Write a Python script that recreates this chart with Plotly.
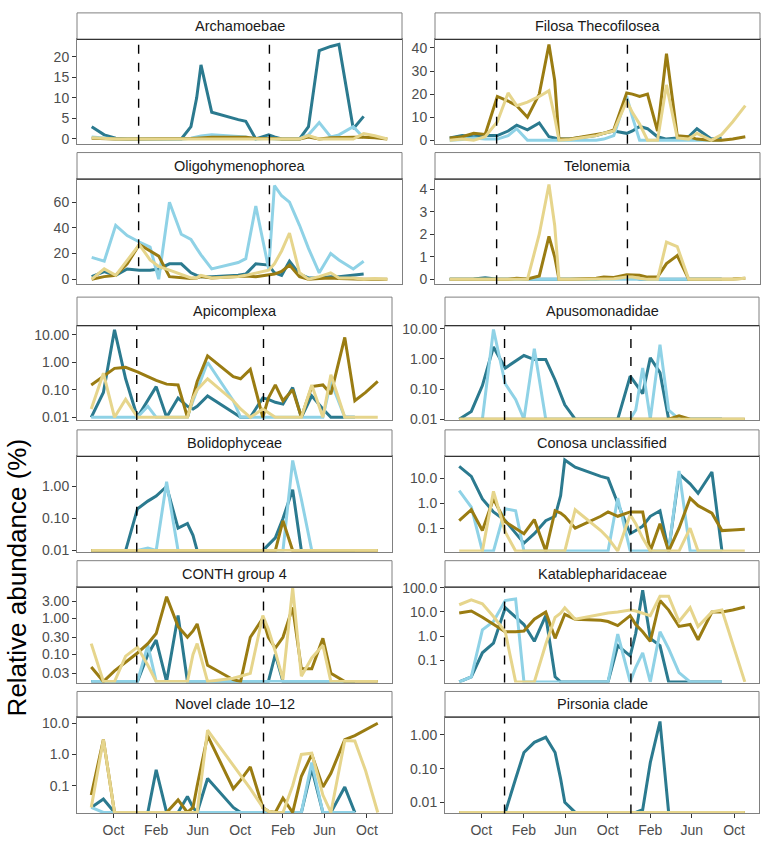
import plotly.graph_objects as go

W, H = 767, 845

# ---------------- data ----------------
dates = ["2017-07-29", "2017-09-02", "2017-10-04", "2017-11-05", "2017-12-09", "2018-01-08",
         "2018-02-01", "2018-03-03", "2018-04-05", "2018-05-02", "2018-05-18", "2018-05-30",
         "2018-06-29", "2018-09-11", "2018-10-02", "2018-10-30", "2018-12-05", "2018-12-21",
         "2019-01-10", "2019-02-01", "2019-03-01", "2019-03-26", "2019-04-25", "2019-05-27",
         "2019-06-19", "2019-07-29", "2019-08-27", "2019-09-27", "2019-11-01"]
event_dates = ["2017-12-07", "2018-12-07"]
month_ticks = ["2017-10-01", "2018-02-01", "2018-06-01", "2018-10-01", "2019-02-01", "2019-06-01", "2019-10-01"]
month_labels = ["Oct", "Feb", "Jun", "Oct", "Feb", "Jun", "Oct"]
N = None

archamoebae_teal = [3, 1, 0.2, 0, 0, 0, 0, 0, 0, 3, 10, 18, 6.5, 4.7, 4.3, 0, 1, 0.5, 0, 0, 0, 3, 21.5, 22.5, 23, 2.5, 5.5, N, N]
archamoebae_lblue = [0.5, 0.2, 0, 0, 0, 0, 0, 0, 0, 0.2, 0.5, 0.7, 1.0, 0.6, 0.5, 0, 0.2, 0, 0, 0, 0, 1.0, 4.0, 0.5, 1.0, 3.0, 0.3, N, N]
archamoebae_dgold = [0.2, 0, 0, 0, 0, 0, 0, 0, 0, 0.1, 0.2, 0.3, 0.4, 0.4, 0.4, 0.1, 0.2, 0.1, 0, 0, 0, 0.5, 0, 0.3, 0.4, 0.4, 0.4, 0.3, 0]
archamoebae_lgold = [0.3, 0.1, 0, 0, 0, 0, 0, 0, 0, 0, 0, 0, 0, 0, 0, 0, 0.1, 0, 0, 0, 0, 0.8, 0, 0, 0, 0, 1.3, 0.8, 0]

filosa_teal = [1, 2, 1.5, 2, 2, 4, 6.5, 4.5, 7.5, 1.5, 1, 0.5, 0.5, 2, 3, 4, 3, 4, 6, 5, 1.5, 0.5, 1, 1.5, 5, 0.5, 1, N, N]
filosa_lblue = [0, 0.3, 1, 0.5, 0.5, 2, 5, 0, 0, 0, 0, 0, 0, 0, 0.5, 2, 19, 10, 0, 0, 0, 0, 0, 0, 0, 0, 0, N, N]
filosa_dgold = [1, 1.5, 3, 2.5, 19, 17, 15, 10, 20, 41.5, 26, 0.5, 0.5, 2.5, 3, 4.5, 20.5, 20, 19, 20, 4, 37.5, 2, 1.5, 0.5, 0, 0, 0.5, 1.5]
filosa_lgold = [0, 0.5, 0, 1.5, 8, 20.5, 15, 16.5, 19, 21.5, 10, 0, 0.3, 2, 3, 4, 17, 12, 7, 0, 0, 24, 1, 0.5, 3, 0, 2.5, 8, 15]

oligo_teal = [2, 6, 3, 8, 7, 7, 8, 12, 12, 5, 3, 2, 2, 3, 4, 12, 11, 5, 3, 14, 4, 1, 1, 2, 2, 3, 4, N, N]
oligo_lblue = [17, 14, 42, 34, 29, 25, 0, 60, 35, 31, 24, 19, 8, 13, 16, 57, 8, 73, 65, 60, 42, 24, 5, 20, 15, 8, 14, N, N]
oligo_dgold = [0, 2, 3, 12, 27, 22, 18, 2, 1, 0.5, 1, 2, 1, 2, 2.5, 2, 3, 4, 6, 11, 2, 0, 0.5, 1, 0.5, 0, 0, 0, 0]
oligo_lgold = [0, 8, 3, 15, 27, 15, 10, 7, 4, 1, 1, 3, 1, 2, 3, 5, 7, 12, 22, 36, 5, 0, 2, 5, 1, 1, 0, 0.5, 0]

telonemia_teal = [0, 0, 0.02, 0.07, 0, 0, 0, 0, 0, 0, 0, 0, 0, 0, 0.05, 0.05, 0.1, 0.1, 0, 0, 0, 0, 0, 0, 0, 0, 0, N, N]
telonemia_lblue = [0, 0, 0, 0, 0, 0, 0, 0, 0, 0.02, 0.02, 0, 0, 0, 0, 0, 0.02, 0.02, 0.02, 0.02, 0.02, 0.02, 0.02, 0, 0, 0, 0, N, N]
telonemia_dgold = [0, 0, 0, 0, 0, 0, 0.05, 0.02, 0.15, 1.9, 1.0, 0, 0, 0.05, 0.1, 0.08, 0.2, 0.2, 0.18, 0.1, 0.1, 0.7, 1.05, 0, 0, 0, 0, 0.02, 0.05]
telonemia_lgold = [0, 0, 0, 0, 0, 0, 0.02, 0, 2.0, 4.2, 2.4, 0, 0, 0.02, 0.03, 0.03, 0.1, 0.1, 0.05, 0, 0, 1.65, 1.45, 0, 0, 0, 0, 0, 0.05]

apicomplexa_teal = [0, 0.08, 15, 0.25, 0, 0.04, 0.13, 0, 0.05, 0.025, 0.02, 0.025, 0.06, 0.015, 0, 0, 0.05, 0.045, 0.035, 0.03, 0.12, 0, 0.06, 0.02, 0, 0, 0, N, N]
apicomplexa_lblue = [0, 0, 0, 0, 0, 0.025, 0, 0, 0, 0, 0.04, 0.1, 1.0, 0.04, 0, 0, 0, 0, 0, 0, 0, 0, 0, 0, 0.2, 0, 0, N, N]
apicomplexa_dgold = [0.15, 0.3, 0.6, 0.65, 0.45, 0.3, 0.22, 0.16, 0.15, 0, 0.06, 0.2, 1.7, 0.3, 0.25, 0.55, 0, 0.05, 0.15, 0.04, 0.1, 0, 0.13, 0.15, 0.07, 8, 0.04, 0.08, 0.2]
apicomplexa_lgold = [0.02, 0.4, 0, 0.045, 0, 0, 0, 0, 0, 0, 0.05, 0.1, 0.25, 0.04, 0.02, 0, 0.02, 0.015, 0, 0, 0, 0, 0.15, 0, 0.35, 0, 0, 0, 0]

apuso_teal = [0, 0.018, 0.13, 2.5, 0.5, 0.85, 1.3, 0.95, 0.95, 0.2, 0.07, 0.03, 0, 0, 0, 0, 0.27, 0.15, 0.07, 1.1, 0.35, 0, 0, 0, 0, 0, 0, N, N]
apuso_lblue = [0, 0, 0, 9.5, 0.15, 0.045, 0, 2.2, 0, 0, 0, 0, 0, 0, 0, 0, 0, 0.02, 0.5, 0, 3.0, 0.02, 0, 0, 0, 0, 0, N, N]
apuso_dgold = [0, 0, 0, 0, 0, 0, 0, 0, 0, 0, 0, 0, 0, 0, 0, 0, 0, 0, 0, 0, 0, 0, 0.013, 0, 0, 0, 0, 0, 0]
apuso_lgold = [0] * 29

bolido_teal = [0, 0, 0, 0, 0.2, 0.35, 0.5, 1.0, 0.05, 0.07, 0.03, 0, 0, 0, 0, 0, 0, 0.015, 0.025, 0.1, 0.8, 0, 0, 0, 0, 0, 0, N, N]
bolido_lblue = [0, 0, 0, 0, 0, 0.012, 0, 1.4, 0, 0, 0, 0, 0, 0, 0, 0, 0, 0, 0, 0, 6.5, 0.4, 0, 0, 0, 0, 0, N, N]
bolido_dgold = [0, 0, 0, 0, 0, 0, 0, 0, 0, 0, 0, 0, 0, 0, 0, 0, 0, 0, 0, 0.085, 0, 0, 0, 0, 0, 0, 0, 0, 0]
bolido_lgold = [0] * 29

conosa_teal = [30, 12, 1.5, 0.45, 0.2, 0.06, 0.025, 0.06, 0.2, 0.3, 2, 55, 28, 12, 10, 1.0, 0.06, 0.08, 0.12, 0.3, 0.5, 0, 15, 6, 2.5, 18, 0, N, N]
conosa_lblue = [3.2, 0.7, 0, 0, 0.6, 0.5, 0, 0, 0, 0, 0, 0, 0, 0, 0, 1.6, 0, 0, 0, 0, 0, 0, 20, 0, 0, 0, 0, N, N]
conosa_dgold = [0.2, 0.55, 0.08, 1.5, 0.18, 0.1, 0.06, 0.22, 0, 0.5, 0.4, 0.3, 0.1, 0.3, 0.45, 0.3, 0.45, 0.45, 0.45, 0, 0.15, 0, 0.1, 1.6, 0.8, 0.4, 0.08, 0.085, 0.09]
conosa_lgold = [0, 0, 0, 3.0, 0.07, 0, 0, 0, 0, 0, 0, 0, 0.55, 0.08, 0.04, 0, 0.35, 0.15, 0.04, 0, 0, 0, 0, 0.1, 0, 0, 0, 0, 0]

conth_teal = [0, 0, 0, 0, 0, 0.1, 0.25, 0, 1.2, 0, 0, 0, 0, 0, 0, 0, 0, 0, 0.1, 0, 0, 0, 0, 0, 0, 0, 0, N, N]
conth_lblue = [0, 0, 0, 0, 0, 0.18, 0, 0, 0, 0, 0, 0, 0, 0, 0, 0, 0, 0, 0, 0, 0, 0, 0, 0, 0, 0, 0, N, N]
conth_dgold = [0.045, 0, 0.035, 0.06, 0.11, 0.2, 0.38, 4.0, 0.6, 0.3, 0.45, 0.7, 0.05, 0.02, 0, 0.3, 1.0, 0.3, 0.15, 0.3, 2.0, 0.04, 0.04, 0.28, 0.03, 0, 0, 0, 0]
conth_lgold = [0.2, 0, 0, 0.09, 0.16, 0.05, 0, 0, 0, 0, 0.1, 0.2, 0, 0.022, 0.025, 0.03, 1.2, 0.5, 0.12, 0.02, 7, 0.025, 0.08, 0.18, 0, 0, 0, 0, 0]

katab_teal = [0, 0.02, 0.2, 0.5, 15, 6, 3, 0.6, 7, 0.02, 0, 0, 0, 0, 0, 0.4, 0.15, 1.3, 80, 0.8, 0.4, 0, 0, 0, 0, 0, 0, N, N]
katab_lblue = [0, 0.02, 1.8, 4, 30, 35, 0, 0, 0, 0, 0, 0, 0, 0, 0, 1.2, 0, 0.05, 0.2, 0, 1.5, 0.3, 0.03, 0, 0, 0, 0, N, N]
katab_dgold = [9, 11, 6, 3, 1.5, 1.5, 1.6, 5, 10, 0.8, 3, 8, 5, 4.5, 4, 2.7, 7, 3, 1.5, 0.6, 30, 12, 2.5, 3, 0.7, 10, 10, 12, 16]
katab_lgold = [20, 32, 22, 6.5, 1.5, 0, 0, 0, 0.45, 6, 9, 15, 5, 8, 9, 10, 12, 11, 9, 7, 45, 45, 4, 15, 2.5, 10, 12, 0.5, 0]

novel_teal = [0.02, 0.037, 0, 0, 0, 0, 0.32, 0, 0, 0.045, 0.02, 0, 0.17, 0.02, 0, 0, 0, 0, 0, 0, 0, 0, 0.35, 0, 0, 0.09, 0, N, N]
novel_lblue = [0.02, 0, 0, 0, 0, 0, 0, 0, 0, 0, 0, 0, 0, 0, 0, 0, 0, 0, 0, 0, 0, 0, 0.55, 0, 0, 0, 0, N, N]
novel_dgold = [0.05, 3, 0, 0, 0, 0, 0, 0, 0.035, 0, 0.02, 0.1, 4, 0.08, 0.15, 0.4, 0.02, 0.015, 0, 0.04, 0, 0.2, 1.0, 0.09, 0.25, 3, 4, 6, 10]
novel_lgold = [0.02, 3, 0, 0, 0, 0, 0, 0, 0, 0, 0, 0, 6, 0.45, 0.2, 0.08, 0.02, 0.015, 0, 0, 0.1, 1.0, 1.1, 0.05, 0, 2.8, 2.7, 0.3, 0]

pirsonia_teal = [0, 0, 0, 0, 0, 0.05, 0.3, 0.6, 0.85, 0.3, 0.05, 0.01, 0, 0, 0, 0, 0, 0, 0.006, 0.15, 2.5, 0, 0, 0, 0, 0, 0, N, N]
pirsonia_lblue = [0, 0, 0, 0, 0, 0, 0, 0, 0, 0, 0, 0, 0, 0, 0, 0, 0, 0, 0, 0, 0, 0, 0, 0, 0, 0, 0, N, N]
pirsonia_dgold = [0] * 29
pirsonia_lgold = [0] * 29

# ---------------- panel specs (layout, not data) ----------------
panels = [
    dict(title="Archamoebae", col=0, row=0, log=False, yr=[-1.15, 24.2], tv=[0, 5, 10, 15, 20], tt=["0", "5", "10", "15", "20"],
         s=[archamoebae_teal, archamoebae_lblue, archamoebae_dgold, archamoebae_lgold]),
    dict(title="Filosa Thecofilosea", col=1, row=0, log=False, yr=[-1.5, 43.7], tv=[0, 10, 20, 30, 40], tt=["0", "10", "20", "30", "40"],
         s=[filosa_teal, filosa_lblue, filosa_dgold, filosa_lgold]),
    dict(title="Oligohymenophorea", col=0, row=1, log=False, yr=[-4, 78], tv=[0, 20, 40, 60], tt=["0", "20", "40", "60"],
         s=[oligo_teal, oligo_lblue, oligo_dgold, oligo_lgold]),
    dict(title="Telonemia", col=1, row=1, log=False, yr=[-0.22, 4.44], tv=[0, 1, 2, 3, 4], tt=["0", "1", "2", "3", "4"],
         s=[telonemia_teal, telonemia_lblue, telonemia_dgold, telonemia_lgold]),
    dict(title="Apicomplexa", col=0, row=2, log=True, yr=[-2.1, 1.33], floor=0.01, tv=[10, 1, 0.1, 0.01], tt=["10.00", "1.00", "0.10", "0.01"],
         s=[apicomplexa_teal, apicomplexa_lblue, apicomplexa_dgold, apicomplexa_lgold]),
    dict(title="Apusomonadidae", col=1, row=2, log=True, yr=[-2.03, 1.107], floor=0.01, tv=[10, 1, 0.1, 0.01], tt=["10.00", "1.00", "0.10", "0.01"],
         s=[apuso_teal, apuso_lblue, apuso_dgold, apuso_lgold]),
    dict(title="Bolidophyceae", col=0, row=3, log=True, yr=[-2.04, 0.94], floor=0.01, tv=[1, 0.1, 0.01], tt=["1.00", "0.10", "0.01"],
         s=[bolido_teal, bolido_lblue, bolido_dgold, bolido_lgold]),
    dict(title="Conosa unclassified", col=1, row=3, log=True, yr=[-1.95, 1.88], floor=10 ** -1.92, tv=[10, 1, 0.1], tt=["10.0", "1.0", "0.1"],
         s=[conosa_teal, conosa_lblue, conosa_dgold, conosa_lgold]),
    dict(title="CONTH group 4", col=0, row=4, log=True, yr=[-1.78, 0.864], floor=10 ** -1.75, tv=[3, 1, 0.3, 0.1, 0.03], tt=["3.00", "1.00", "0.30", "0.10", "0.03"],
         s=[conth_teal, conth_lblue, conth_dgold, conth_lgold]),
    dict(title="Katablepharidaceae", col=1, row=4, log=True, yr=[-1.94, 2.03], floor=10 ** -1.91, tv=[100, 10, 1, 0.1], tt=["100.0", "10.0", "1.0", "0.1"],
         s=[katab_teal, katab_lblue, katab_dgold, katab_lgold]),
    dict(title="Novel clade 10\u201312", col=0, row=5, log=True, yr=[-1.89, 1.2], floor=10 ** -1.86, tv=[10, 1, 0.1], tt=["10.0", "1.0", "0.1"],
         s=[novel_teal, novel_lblue, novel_dgold, novel_lgold]),
    dict(title="Pirsonia clade", col=1, row=5, log=True, yr=[-2.33, 0.53], floor=10 ** -2.3, tv=[1, 0.1, 0.01], tt=["1.00", "0.10", "0.01"],
         s=[pirsonia_teal, pirsonia_lblue, pirsonia_dgold, pirsonia_lgold]),
]

colors = ["#2b7a8f", "#8fd2e6", "#9a7c12", "#e6d58c"]

# pixel layout: rows (strip_top, plot_top, plot_bottom)
rows_px = [(6, 33, 139), (148, 175, 282), (295, 324, 420), (430, 457, 554), (563, 590, 687), (696, 722, 820)]
cols_top = [(77, 402), (435, 760)]
cols_low = [(77, 392), (445, 759)]
x_range = ["2017-06-18", "2019-12-12"]

GRID = "#808080"
TICKC = "#4d4d4d"
FONT = "Liberation Sans, Arial, sans-serif"

fig = go.Figure()
layout = dict(width=W, height=H, margin=dict(l=0, r=0, t=0, b=0), paper_bgcolor="white",
              plot_bgcolor="white", showlegend=False, shapes=[], annotations=[])

for i, p in enumerate(panels):
    n = i + 1
    suf = "" if n == 1 else str(n)
    st, pt, pb = rows_px[p["row"]]
    x0, x1 = (cols_top if p["row"] < 2 else cols_low)[p["col"]]
    bottom = p["row"] == 5
    layout["xaxis" + suf] = dict(domain=[x0 / W, x1 / W], anchor="y" + suf, type="date", range=x_range,
                                 showline=True, mirror=True, linecolor=GRID, linewidth=1, showgrid=False,
                                 zeroline=False, tickvals=month_ticks, ticktext=month_labels,
                                 showticklabels=bottom, ticks="outside" if bottom else "", ticklen=4,
                                 tickcolor="#333333", tickfont=dict(family=FONT, size=14, color=TICKC))
    layout["yaxis" + suf] = dict(domain=[1 - pb / H, 1 - pt / H], anchor="x" + suf,
                                 type="log" if p["log"] else "linear", range=p["yr"],
                                 showline=True, mirror=True, linecolor=GRID, linewidth=1, showgrid=False,
                                 zeroline=False, tickvals=p["tv"], ticktext=p["tt"], ticks="outside",
                                 ticklen=4, tickcolor="#333333",
                                 tickfont=dict(family=FONT, size=14, color=TICKC))
    for vals, c in zip(p["s"], colors):
        if p["log"]:
            y = [None if v is None else max(v, p["floor"]) for v in vals]
        else:
            y = vals
        fig.add_trace(go.Scatter(x=dates, y=y, mode="lines", line=dict(color=c, width=3),
                                 xaxis="x" + suf, yaxis="y" + suf, hoverinfo="skip",
                                 connectgaps=False))
    for d in event_dates:
        layout["shapes"].append(dict(type="line", xref="x" + suf, yref="y" + suf + " domain",
                                     x0=d, x1=d, y0=0, y1=1,
                                     line=dict(color="black", width=1.4, dash="dash")))
    # strip
    layout["shapes"].append(dict(type="rect", xref="paper", yref="paper", x0=x0 / W, x1=x1 / W,
                                 y0=1 - pt / H, y1=1 - st / H, fillcolor="white",
                                 line=dict(color=GRID, width=1)))
    layout["shapes"].append(dict(type="line", xref="paper", yref="paper", x0=x0 / W, x1=x1 / W,
                                 y0=1 - pt / H, y1=1 - pt / H, line=dict(color="#333333", width=1.2)))
    layout["annotations"].append(dict(text=p["title"], xref="paper", yref="paper",
                                      x=(x0 + x1) / 2 / W, y=1 - (st + pt) / 2 / H,
                                      showarrow=False, xanchor="center", yanchor="middle",
                                      font=dict(family=FONT, size=14.5, color="#1a1a1a")))

layout["annotations"].append(dict(text="Relative abundance (%)", xref="paper", yref="paper",
                                  x=17 / W, y=1 - 580 / H, textangle=-90, showarrow=False,
                                  xanchor="center", yanchor="middle",
                                  font=dict(family=FONT, size=26, color="black")))

fig.update_layout(**layout)
fig.write_html("out.html")
